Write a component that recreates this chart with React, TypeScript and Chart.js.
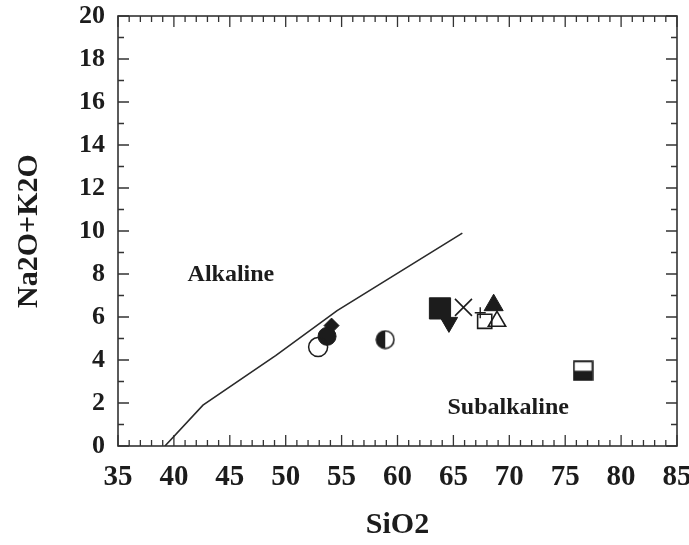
import React, { useEffect, useRef } from "react";
import { Chart, registerables } from "chart.js";

Chart.register(...registerables);

// Axis ranges and tick labels
const xMin = 35;
const xMax = 85;
const xStep = 5;
const yMin = 0;
const yMax = 20;
const yStep = 2;

// Alkaline / subalkaline boundary line
const boundarySiO2 = [39.2, 42.6, 48.8, 49.1, 54.6, 65.8];
const boundaryAlk = [0.0, 1.9, 4.1, 4.2, 6.3, 9.9];

// Samples (one marker each)
const sampleIds = ["S1", "S2", "S3", "S4", "S5", "S6", "S7", "S8", "S9", "S10", "S11", "S12"];
const sampleSiO2 = [52.9, 53.7, 54.1, 58.9, 63.8, 64.6, 65.9, 67.8, 68.9, 67.4, 68.6, 76.6];
const sampleAlk = [4.6, 5.1, 5.6, 4.95, 6.4, 5.75, 6.45, 5.8, 5.8, 6.2, 6.55, 3.5];

// Field labels
const fieldNames = ["Alkaline", "Subalkaline"];
const fieldSiO2 = [45.1, 69.9];
const fieldAlk = [7.95, 1.8];

const INK = "#1c1c1c";
const FONT = "'Liberation Serif', 'Times New Roman', serif";

function makeHalfCircle(size: number) {
  const c = document.createElement("canvas");
  c.width = size;
  c.height = size;
  const g = c.getContext("2d")!;
  const r = size / 2 - 1.2;
  const m = size / 2;
  g.fillStyle = "#fff";
  g.beginPath();
  g.arc(m, m, r, 0, Math.PI * 2);
  g.fill();
  g.fillStyle = INK;
  g.beginPath();
  g.arc(m, m, r, Math.PI / 2, Math.PI * 1.5);
  g.closePath();
  g.fill();
  g.strokeStyle = INK;
  g.lineWidth = 1.6;
  g.beginPath();
  g.arc(m, m, r, 0, Math.PI * 2);
  g.stroke();
  return c;
}

function makeHalfSquare(size: number) {
  const c = document.createElement("canvas");
  c.width = size;
  c.height = size;
  const g = c.getContext("2d")!;
  const p = 1.2;
  const s = size - 2 * p;
  g.fillStyle = "#fff";
  g.fillRect(p, p, s, s);
  g.fillStyle = INK;
  g.fillRect(p, p + s / 2, s, s / 2);
  g.strokeStyle = INK;
  g.lineWidth = 1.8;
  g.strokeRect(p, p, s, s);
  return c;
}

const frameTicks = {
  id: "frameTicks",
  beforeDatasetsDraw(chart: any) {
    const { ctx, chartArea: a, scales } = chart;
    const x = scales.x;
    const y = scales.y;
    ctx.save();
    ctx.strokeStyle = "#333";
    ctx.lineWidth = 1.6;
    ctx.strokeRect(a.left, a.top, a.right - a.left, a.bottom - a.top);
    ctx.lineWidth = 1.3;
    ctx.beginPath();
    for (let v = xMin; v <= xMax; v += 1) {
      const px = x.getPixelForValue(v);
      const len = v % 5 === 0 ? 11 : 6;
      ctx.moveTo(px, a.bottom);
      ctx.lineTo(px, a.bottom - len);
      ctx.moveTo(px, a.top);
      ctx.lineTo(px, a.top + len);
    }
    for (let v = yMin; v <= yMax; v += 1) {
      const py = y.getPixelForValue(v);
      const len = v % 2 === 0 ? 11 : 6;
      ctx.moveTo(a.left, py);
      ctx.lineTo(a.left + len, py);
      ctx.moveTo(a.right, py);
      ctx.lineTo(a.right - len, py);
    }
    ctx.stroke();
    ctx.restore();
  },
};

const fieldLabels = {
  id: "fieldLabels",
  afterDatasetsDraw(chart: any) {
    const { ctx, scales } = chart;
    ctx.save();
    ctx.fillStyle = INK;
    ctx.font = `bold 24px ${FONT}`;
    ctx.textAlign = "center";
    ctx.textBaseline = "middle";
    fieldNames.forEach((t, i) => {
      ctx.fillText(t, scales.x.getPixelForValue(fieldSiO2[i]), scales.y.getPixelForValue(fieldAlk[i]));
    });
    ctx.restore();
  },
};

export default function App() {
  const ref = useRef<HTMLCanvasElement | null>(null);

  useEffect(() => {
    if (!ref.current) return;
    const halfCircle = makeHalfCircle(20);
    const halfSquare = makeHalfSquare(21);

    const styles: any[] = [
      { pointStyle: "circle", radius: 9.5, bg: "rgba(255,255,255,0)", bw: 1.5 },
      { pointStyle: "circle", radius: 9, bg: INK, bw: 1 },
      { pointStyle: "rectRot", radius: 7.5, bg: INK, bw: 1 },
      { pointStyle: halfCircle, radius: 10, bg: INK, bw: 0 },
      { pointStyle: "rect", radius: 15, bg: INK, bw: 1 },
      { pointStyle: "triangle", radius: 10, bg: INK, bw: 1, rot: 180 },
      { pointStyle: "crossRot", radius: 12, bg: INK, bw: 1.6 },
      { pointStyle: "rect", radius: 10, bg: "rgba(255,255,255,0)", bw: 1.6 },
      { pointStyle: "triangle", radius: 10, bg: "rgba(255,255,255,0)", bw: 1.6 },
      { pointStyle: "cross", radius: 5.5, bg: INK, bw: 1.4 },
      { pointStyle: "triangle", radius: 11, bg: INK, bw: 1 },
      { pointStyle: halfSquare, radius: 10, bg: INK, bw: 0 },
    ];

    const sampleSets = sampleIds.map((id, i) => ({
      type: "scatter" as const,
      label: id,
      data: [{ x: sampleSiO2[i], y: sampleAlk[i] }],
      pointStyle: styles[i].pointStyle,
      pointRadius: styles[i].radius,
      pointRotation: styles[i].rot || 0,
      pointBackgroundColor: styles[i].bg,
      pointBorderColor: INK,
      pointBorderWidth: styles[i].bw,
      showLine: false,
    }));

    const chart = new Chart(ref.current, {
      type: "scatter",
      data: {
        datasets: [
          {
            type: "line" as const,
            label: "boundary",
            data: boundarySiO2.map((x, i) => ({ x, y: boundaryAlk[i] })),
            borderColor: "#2a2a2a",
            borderWidth: 1.6,
            pointRadius: 0,
            fill: false,
            tension: 0,
          },
          ...sampleSets,
        ] as any,
      },
      options: {
        animation: false,
        responsive: false,
        events: [],
        layout: { autoPadding: false, padding: { top: 16, right: 12, left: 0, bottom: 0 } },
        plugins: { legend: { display: false }, tooltip: { enabled: false } },
        scales: {
          x: {
            type: "linear",
            min: xMin,
            max: xMax,
            grid: { display: false, drawTicks: false },
            border: { display: false },
            ticks: {
              stepSize: xStep,
              padding: 14,
              color: INK,
              font: { family: FONT, size: 29, weight: "bold" },
              maxRotation: 0,
            },
            title: {
              display: true,
              text: "SiO2",
              color: INK,
              font: { family: FONT, size: 30, weight: "bold" },
              padding: { top: 0, bottom: 2 },
            },
            afterFit: (s: any) => {
              s.height = 99;
              s.paddingLeft = 0;
              s.paddingRight = 0;
            },
          },
          y: {
            type: "linear",
            min: yMin,
            max: yMax,
            grid: { display: false, drawTicks: false },
            border: { display: false },
            ticks: {
              stepSize: yStep,
              padding: 13,
              color: INK,
              font: { family: FONT, size: 26, weight: "bold" },
            },
            title: {
              display: true,
              text: "Na2O+K2O",
              color: INK,
              font: { family: FONT, size: 30, weight: "bold" },
              padding: { top: 11, bottom: 0 },
            },
            afterFit: (s: any) => {
              s.width = 118;
              s.paddingTop = 0;
              s.paddingBottom = 0;
            },
          },
        },
      } as any,
      plugins: [frameTicks, fieldLabels],
    });
    return () => chart.destroy();
  }, []);

  return (
    <div style={{ position: "fixed", left: 0, top: 0, width: 689, height: 545, background: "#fff" }}>
      <canvas ref={ref} width={689} height={545} />
    </div>
  );
}
